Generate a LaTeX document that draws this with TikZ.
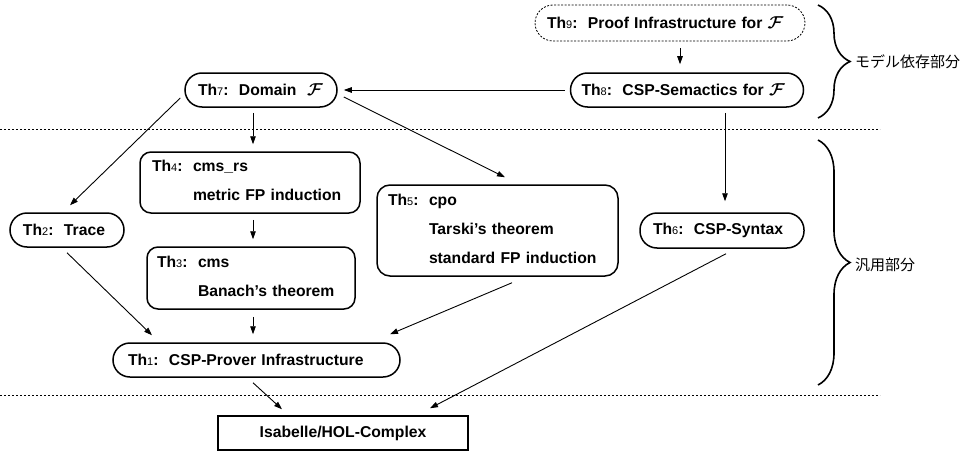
\documentclass[tikz,border=0pt]{standalone}
\usepackage{amsmath}
\usepackage{fontspec}
\setmainfont{Liberation Sans}
\newfontfamily\jpfont{Noto Sans CJK JP}
\usetikzlibrary{arrows.meta,decorations.pathreplacing,calc}
\newcommand\dg[1]{{\fontsize{11}{11}\selectfont\mdseries #1}}
\newcommand\FF{{\fontsize{18.5}{18}\selectfont$\boldsymbol{\mathcal{F}}$}}
\begin{document}
\begin{tikzpicture}[x=1pt,y=-1pt,
  txt/.style={font=\bfseries\fontsize{15.7}{18}\selectfont},
  pill/.style={txt, draw, line width=1.5pt, rounded corners=17pt, minimum height=34pt, inner ysep=0pt, align=left},
  rbox/.style={txt, draw, line width=1.5pt, rounded corners=11pt, inner ysep=0pt, align=left},
  sbox/.style={txt, draw, line width=1.5pt, minimum width=250pt, minimum height=34pt, inner sep=0pt},
  arr/.style={line width=0.9pt, -{Triangle[length=8pt,width=5.5pt]}},
  sep/.style={line width=0.9pt, dash pattern=on 2pt off 2pt},
  brc/.style={line width=1.6pt, decorate, decoration={brace, amplitude=32pt}},
  jp/.style={font=\jpfont\fontsize{15}{18}\selectfont, anchor=west, inner sep=0pt}]
\useasboundingbox (0,0) rectangle (966,452);

% nodes
\node[pill, rounded corners=18pt, minimum height=36pt, line width=0.8pt, dash pattern=on 2pt off 1.5pt, inner xsep=12pt, text width=246pt] (th9) at (670,23) {Th\dg{9}:\ \ Proof Infrastructure for \FF};
\node[pill, inner xsep=11pt, text width=211pt] (th8) at (687,90) {Th\dg{8}:\ \ CSP-Semactics for \FF};
\node[pill, inner xsep=13pt, text width=126pt] (th7) at (261,90) {Th\dg{7}:\ \ Domain\ \ \FF};
\node[rbox, inner xsep=12pt, text width=196pt, minimum height=61pt] (th4) at (250,182.5)
  {\begin{tabular}{@{}p{41pt}@{}l@{}}Th\dg{4}: & cms\_rs\\[11pt] & metric FP induction\end{tabular}};
\node[rbox, inner xsep=10pt, text width=188pt, minimum height=62pt] (th3) at (251,278)
  {\begin{tabular}{@{}p{41pt}@{}l@{}}Th\dg{3}: & cms\\[11pt] & Banach's theorem\end{tabular}};
\node[rbox, rounded corners=13pt, inner xsep=11pt, text width=219pt, minimum height=91pt] (th5) at (497.5,230.5)
  {\begin{tabular}{@{}p{41pt}@{}l@{}}Th\dg{5}: & cpo\\[11pt] & Tarski's theorem\\[11pt] & standard FP induction\end{tabular}};
\node[pill, inner xsep=13pt, text width=88pt] (th2) at (67,230) {Th\dg{2}:\ \ Trace};
\node[pill, minimum height=35pt, inner xsep=13pt, text width=138pt] (th6) at (722,230.5) {Th\dg{6}:\ \ CSP-Syntax};
\node[pill, inner xsep=15pt, text width=257pt] (th1) at (256.5,360) {Th\dg{1}:\ \ CSP-Prover Infrastructure};
\node[sbox] (isa) at (343,433) {Isabelle/HOL-Complex};

% separators
\coordinate (s1a) at (0,129); \coordinate (s1b) at (880,129);
\coordinate (s2a) at (0,395); \coordinate (s2b) at (880,395);
\draw[sep] (s1a) -- (s1b);
\draw[sep] (s2a) -- (s2b);

% braces and labels
\coordinate (b1a) at (818,5); \coordinate (b1b) at (818,118);
\coordinate (b2a) at (818,140); \coordinate (b2b) at (818,385);
\draw[brc] (b1a) -- (b1b);
\draw[brc] (b2a) -- (b2b);
\node[jp] (lab1) at (855,62) {モデル依存部分};
\node[jp] (lab2) at (855,265) {汎用部分};

% connectors
\draw[arr] ([xshift=10pt,yshift=-7pt]th9.south) -- ([xshift=-7pt,yshift=8pt]th8.north);
\draw[arr] ([xshift=-5pt]th8.west) -- ([xshift=6pt]th7.east);
\draw[arr] ([xshift=38pt,yshift=-5pt]th8.south) -- ([xshift=3pt,yshift=11pt]th6.north);
\draw[arr] ([xshift=-8pt,yshift=-5pt]th7.south) -- ([xshift=3pt,yshift=7pt]th4.north);
\draw[arr] ([xshift=-4pt,yshift=-8pt]th7.west) -- ([xshift=3pt,yshift=7pt]th2.north);
\draw[arr] ([xshift=6pt,yshift=-7pt]th7.east) -- ([xshift=7.5pt,yshift=7pt]th5.north);
\draw[arr] ([xshift=3pt,yshift=-6pt]th4.south) -- ([xshift=2pt,yshift=7pt]th3.north);
\draw[arr] ([yshift=-5pt]th2.south) -- ([xshift=-104.5pt,yshift=7pt]th1.north);
\draw[arr] ([xshift=2pt,yshift=-7pt]th3.south) -- ([xshift=-3.5pt,yshift=8pt]th1.north);
\draw[arr] ([xshift=14.5pt,yshift=-6pt]th5.south) -- ([xshift=133.5pt,yshift=8pt]th1.north);
\draw[arr] ([xshift=-3.5pt,yshift=-5pt]th1.south) -- ([xshift=-61pt,yshift=6pt]isa.north);
\draw[arr] ([xshift=4pt,yshift=-5pt]th6.south) -- ([xshift=87pt,yshift=7pt]isa.north);
\end{tikzpicture}
\end{document}
